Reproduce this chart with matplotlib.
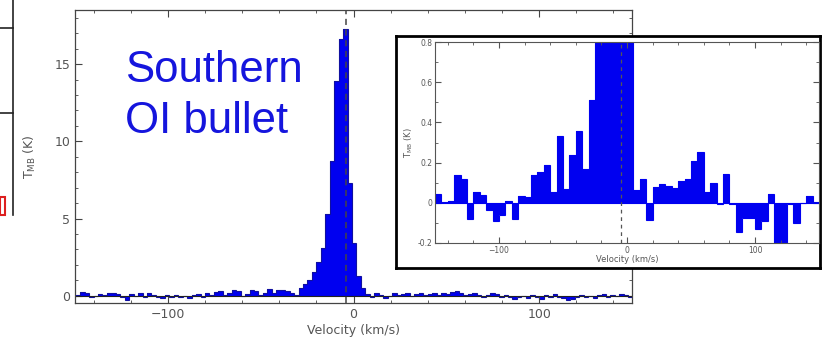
import numpy as np
import matplotlib
matplotlib.use("Agg")
import matplotlib.pyplot as plt
import matplotlib.ticker as ticker
from matplotlib.patches import Rectangle
from matplotlib.lines import Line2D

# Datos del espectro principal (canales de 2.4 km/s)
bordes_main = np.linspace(-149.6, 150.4, 126)
T_main = [0.05, 0.25, 0.15, -0.05, 0.0, 0.1, 0.05, 0.2, 0.15, 0.1,
          -0.1, -0.25, 0.1, 0.0, 0.15, -0.05, 0.2, 0.05, -0.1, -0.15,
          0.05, -0.1, 0.05, -0.05, 0.0, -0.15, 0.05, 0.1, -0.05, 0.15,
          0.05, 0.25, 0.3, 0.05, 0.2, 0.35, 0.3, 0.0, 0.1, 0.35,
          0.3, 0.05, 0.2, 0.45, 0.15, 0.35, 0.4, 0.3, 0.2, 0.05,
          0.5, 0.76, 1.0, 1.56, 2.2, 3.07, 5.3, 8.7, 13.9, 16.6,
          17.3, 7.3, 3.4, 1.3, 0.5,
          0.1, -0.05, 0.2, 0.05, -0.15, 0.0, 0.15, 0.05, 0.1, 0.15,
          0.0, 0.1, 0.15, 0.05, 0.1, 0.15, 0.05, 0.2, 0.1, 0.25,
          0.3, 0.2, 0.05, 0.1, 0.15, 0.05, -0.05, 0.05, 0.2, 0.1,
          -0.05, 0.05, -0.1, -0.2, -0.1, 0.0, -0.15, 0.05, -0.1, -0.2,
          0.05, -0.1, 0.1, -0.05, -0.15, -0.3, -0.2, -0.1, 0.05, -0.1,
          0.0, -0.15, 0.05, 0.1, -0.05, 0.05, 0.0, 0.1, 0.05, -0.05]

# Datos del recuadro (canales de 5 km/s)
bordes_zoom = np.linspace(-150, 150, 61)
T_zoom = [0.045, 0.005, 0.01, 0.14, 0.12, -0.08, 0.055, 0.04, -0.035, -0.09,
          -0.06, 0.01, -0.08, 0.035, 0.03, 0.14, 0.155, 0.19, 0.055, 0.33,
          0.07, 0.24, 0.355, 0.17, 0.51, 0.95, 1.9, 4.5, 13.0, 11.5,
          2.4, 0.065, 0.12, -0.085, 0.08, 0.095, 0.085, 0.075, 0.11, 0.12,
          0.21, 0.255, 0.055, 0.10, -0.005, 0.145, -0.005, -0.145, -0.075, -0.075,
          -0.13, -0.09, 0.045, -0.25, -0.25, -0.005, -0.10, 0.0, 0.035, 0.005]

v_pico = -4.3
azul = '#0000f0'
gris = '#555555'

fig = plt.figure(figsize=(8.23, 3.41), dpi=100)

# restos de la figura vecina a la izquierda
W, H = 823.0, 341.0
fig.add_artist(Line2D([13/W, 13/W], [1, 1-215/H], color='#222222', lw=1.2))
fig.add_artist(Line2D([0, 13/W], [1-28/H, 1-28/H], color='#222222', lw=1.2))
fig.add_artist(Line2D([0, 13/W], [1-113/H, 1-113/H], color='#222222', lw=1.2))
fig.add_artist(Rectangle((0, 1-215/H), 5/W, 18/H, fill=False, ec='#dd2020', lw=1.5))

# Gráfico principal
ax1 = fig.add_axes([75/W, 1-303/H, 557/W, 293/H])
ax1.stairs(T_main, bordes_main, baseline=0, fill=True, color=azul, lw=0)
ax1.stairs(T_main, bordes_main, baseline=None, color='#1010a0', lw=0.8)
ax1.axhline(0, color='#222222', lw=0.8)
ax1.axvline(v_pico, color='#444444', lw=1.1, ls=(0, (4, 3)), zorder=5)
ax1.set_xlim(-150, 150)
ax1.set_ylim(-0.47, 18.5)
ax1.set_xticks([-100, 0, 100])
ax1.set_yticks([0, 5, 10, 15])
ax1.xaxis.set_minor_locator(ticker.MultipleLocator(20))
ax1.yaxis.set_minor_locator(ticker.MultipleLocator(1))
ax1.tick_params(which='both', direction='in', top=True, right=True, colors='#444444', labelcolor=gris, labelsize=9)
ax1.tick_params(which='major', length=5)
ax1.tick_params(which='minor', length=2.5)
ax1.set_xlabel("Velocity (km/s)", color=gris, fontsize=9, labelpad=2)
ax1.set_ylabel(r"T$_{\rm MB}$ (K)", color=gris, fontsize=9, labelpad=12)
for s in ax1.spines.values():
    s.set_color('#444444')
    s.set_linewidth(0.9)

fig.text(125/W, 1-82/H, "Southern", color='#1515dd', fontsize=31.5, family='Liberation Sans')
fig.text(125/W, 1-133/H, "OI bullet", color='#1515dd', fontsize=31.5, family='Liberation Sans')

# Marco negro del recuadro
axm = fig.add_axes([396/W, 1-268/H, 424/W, 232/H])
axm.set_xticks([])
axm.set_yticks([])
for s in axm.spines.values():
    s.set_color('black')
    s.set_linewidth(2)

# Recuadro ampliado
ax2 = fig.add_axes([435/W, 1-243/H, 384/W, 201/H])
ax2.stairs(T_zoom, bordes_zoom, baseline=0, fill=True, color=azul, lw=0)
ax2.stairs(T_zoom, bordes_zoom, baseline=None, color=azul, lw=0.8)
ax2.axhline(0, color=azul, lw=0.8)
ax2.axvline(v_pico, color='#555555', lw=0.9, ls=(0, (3, 3)), zorder=5)
ax2.set_xlim(-150, 150)
ax2.set_ylim(-0.2, 0.8)
ax2.set_xticks([-100, 0, 100])
ax2.set_yticks([-0.2, 0, 0.2, 0.4, 0.6, 0.8])
ax2.yaxis.set_major_formatter(ticker.FuncFormatter(lambda y, pos: '0' if abs(y) < 1e-9 else '{:g}'.format(y)))
ax2.xaxis.set_minor_locator(ticker.MultipleLocator(20))
ax2.yaxis.set_minor_locator(ticker.MultipleLocator(0.1))
ax2.tick_params(which='both', direction='in', top=True, right=True, colors='#555555', labelcolor=gris, labelsize=5.5, pad=2)
ax2.tick_params(which='major', length=4)
ax2.tick_params(which='minor', length=2)
ax2.set_xlabel("Velocity (km/s)", color=gris, fontsize=6, labelpad=0)
ax2.set_ylabel(r"T$_{\rm MB}$ (K)", color=gris, fontsize=6, labelpad=2)
for s in ax2.spines.values():
    s.set_color('#555555')
    s.set_linewidth(0.8)

fig.savefig("out.png", dpi=100)
